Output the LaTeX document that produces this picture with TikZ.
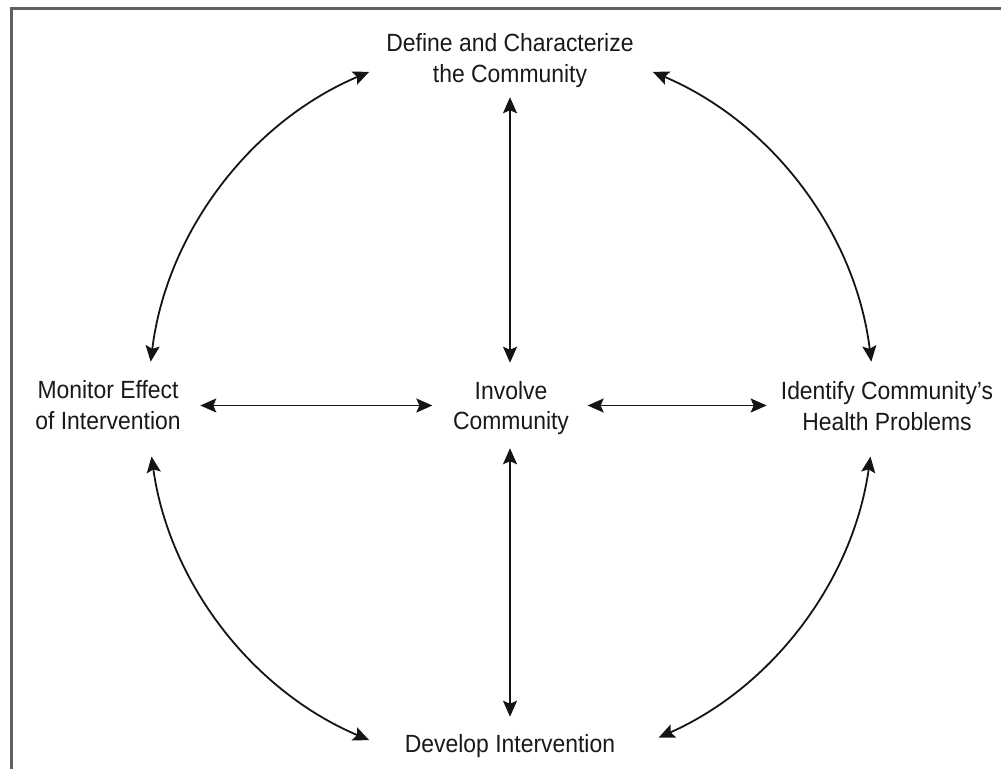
\documentclass[tikz,border=0pt]{standalone}
\usepackage{fontspec}
\setmainfont[FakeStretch=0.92]{Liberation Sans}
\usetikzlibrary{arrows.meta,calc}
\begin{document}
\begin{tikzpicture}[x=1bp,y=-1bp,
  lbl/.style={font=\fontsize{25}{31}\selectfont, align=center, inner sep=0pt, text=black!90},
  dbl/.style={{Stealth[length=16bp,width=14bp,inset=3bp]}-{Stealth[length=16bp,width=14bp,inset=3bp]}, line width=1.8bp, black!92},
  frame/.style={line width=3bp, black!62}]
\useasboundingbox (0,0) rectangle (1001,769);
\draw[frame] (11,790) -- (11,9) -- (1020,9);

\node[lbl] (top) at (510,61) {Define and Characterize\\the Community};
\node[lbl] (mid) at (511,408) {Involve\\Community};
\node[lbl] (left) at (108,405.5) {Monitor Effect\\of Intervention};
\node[lbl] (right) at (887,406) {Identify Community's\\Health Problems};
\node[lbl, anchor=base] (bot) at (510,752) {Develop Intervention};

\coordinate (O) at (511,406);
\coordinate (tl) at ($(O)+(247:363)$);
\coordinate (tr) at ($(O)+(293:363)$);
\coordinate (bl) at ($(O)+(172:363)$);
\coordinate (br) at ($(O)+(8:363)$);

\draw[dbl, shorten <=9bp, shorten >=18bp] (top.south) -- (top.south |- mid.north);
\draw[dbl, shorten <=13bp, shorten >=17bp] (mid.south -| top.south) -- (top.south |- bot.north);
\draw[dbl, shorten <=19.5bp, shorten >=20.5bp] (left.east) -- (left.east -| mid.west);
\draw[dbl, shorten <=18.5bp, shorten >=14bp] (mid.east |- left.east) -- (left.east -| right.west);

\draw[dbl] (tl) arc[start angle=247, end angle=187, radius=363];
\draw[dbl] (tr) arc[start angle=293, end angle=353, radius=363];
\draw[dbl] (bl) arc[start angle=172, end angle=113, radius=363];
\draw[dbl] (br) arc[start angle=8, end angle=66, radius=363];
\end{tikzpicture}
\end{document}
